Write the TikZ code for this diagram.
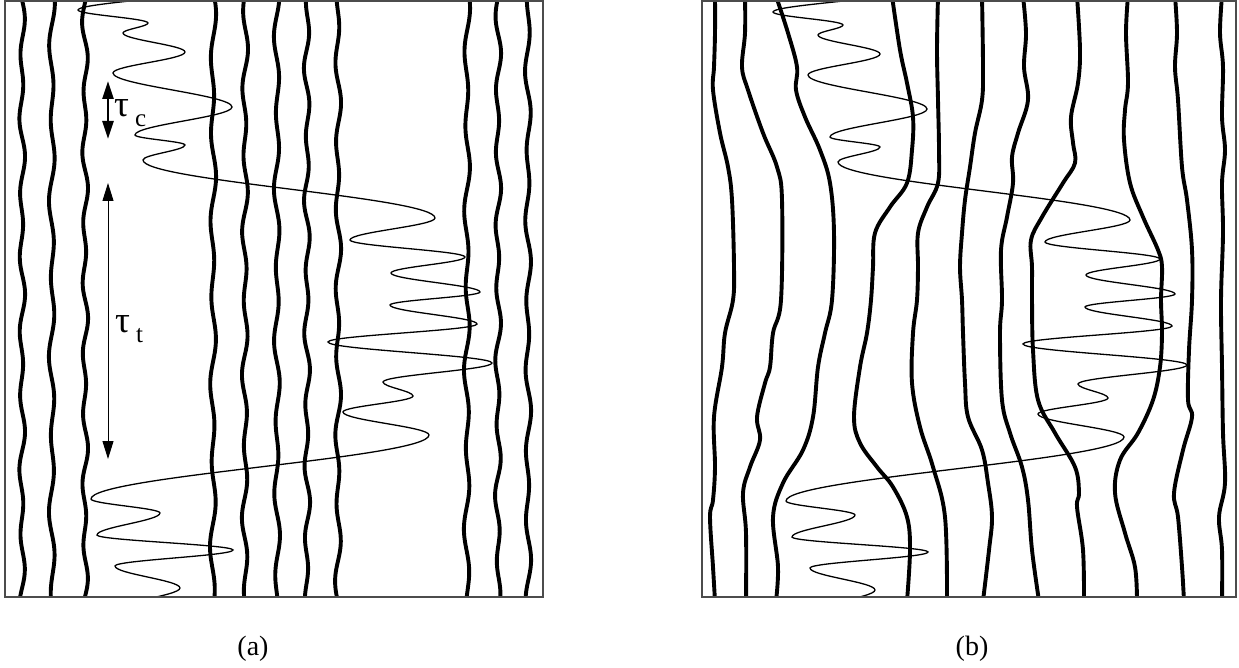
\documentclass[tikz,border=0pt]{standalone}
\usepackage{fontspec}
\setmainfont{Liberation Serif}
\usetikzlibrary{arrows.meta}
\newcommand\wigline[3]{\draw[thickline] plot[smooth, domain=-6:603, samples=120, variable=\t] ({#1+2.1*sin(#2*\t+#3)+1.0*sin(0.53*#2*\t+1.7*#3)}, {\t});}
\newcommand\drawwave[1]{%
\draw[thinwave,#1] (200,-10)
 .. controls +(0,7) and +(0,-7) .. (78,10)
 .. controls +(0,4.7) and +(0,-4.7) .. (148,23)
 .. controls +(0,3.6) and +(0,-3.6) .. (123,33)
 .. controls +(0,6.8) and +(0,-6.8) .. (185,52)
 .. controls +(0,7.6) and +(0,-7.6) .. (113,73)
 .. controls +(0,12.2) and +(0,-12.2) .. (232,107)
 .. controls +(0,10.1) and +(0,-10.1) .. (135,135)
 .. controls +(0,3.6) and +(0,-3.6) .. (185,145)
 .. controls +(0,5.4) and +(0,-5.4) .. (143,160)
 .. controls +(0,20.9) and +(0,-20.9) .. (435,218)
 .. controls +(0,7.9) and +(0,-7.9) .. (350,240)
 .. controls +(0,6.1) and +(0,-6.1) .. (465,257)
 .. controls +(0,5.8) and +(0,-5.8) .. (391,273)
 .. controls +(0,6.8) and +(0,-6.8) .. (480,292)
 .. controls +(0,4.7) and +(0,-4.7) .. (390,305)
 .. controls +(0,6.8) and +(0,-6.8) .. (477,324)
 .. controls +(0,6.5) and +(0,-6.5) .. (328,342)
 .. controls +(0,7.6) and +(0,-7.6) .. (492,363)
 .. controls +(0,6.8) and +(0,-6.8) .. (383,382)
 .. controls +(0,5) and +(0,-5) .. (413,396)
 .. controls +(0,5.8) and +(0,-5.8) .. (343,412)
 .. controls +(0,8.3) and +(0,-8.3) .. (429,435)
 .. controls +(0,23) and +(0,-23) .. (91,499)
 .. controls +(0,5) and +(0,-5) .. (160,513)
 .. controls +(0,7.9) and +(0,-7.9) .. (97,535)
 .. controls +(0,5.4) and +(0,-5.4) .. (233,550)
 .. controls +(0,5.8) and +(0,-5.8) .. (115,566)
 .. controls +(0,7.9) and +(0,-7.9) .. (180,588)
 .. controls +(0,8) and +(0,-8) .. (105,612);}
\tikzset{tipc/.tip={Triangle[length=18pt,width=11pt]}}
\begin{document}
\begin{tikzpicture}[x=1pt,y=-1pt,
  thickline/.style={line width=3.9pt, line cap=round, line join=round},
  thinwave/.style={line width=1.3pt},
  frameline/.style={line width=1.6pt, draw=black!70},
  biglabel/.style={font=\fontsize{28}{32}\selectfont, inner sep=0pt},
  taulabel/.style={font=\fontsize{37}{40}\selectfont, inner sep=0pt, anchor=base west},
  sublabel/.style={font=\fontsize{25}{28}\selectfont, inner sep=0pt, anchor=base west}]
\useasboundingbox (0,0) rectangle (1239,668);
% ---------- panel (a)
\begin{scope}
\clip (5,1) rectangle (543,597);
\wigline{22}{5.2}{0}
\wigline{52}{4.6}{70}
\wigline{85}{5.5}{140}
\wigline{213}{4.4}{30}
\wigline{245}{5.0}{200}
\wigline{277}{4.7}{100}
\wigline{307}{5.4}{260}
\wigline{338}{4.9}{310}
\wigline{467}{4.5}{50}
\wigline{498}{5.3}{170}
\wigline{528}{4.8}{280}
\drawwave{}
\end{scope}
\draw[frameline] (5,1) rectangle (543,597);
\coordinate (tcA) at (108,81);
\coordinate (tcB) at (108,139);
\coordinate (ttA) at (108,183);
\coordinate (ttB) at (108,459);
\draw[tipc-tipc, line width=2.5pt] (tcA) -- (tcB);
\draw[tipc-tipc, line width=1pt] (ttA) -- (ttB);
\node[taulabel] (tauc) at (114,117) {τ};
\node[sublabel] (subc) at (135,127) {c};
\node[taulabel] (taut) at (115,332) {τ};
\node[sublabel] (subt) at (136,342) {t};
\node[biglabel] (laba) at (253,649) {(a)};
% ---------- panel (b)
\begin{scope}
\clip (702,1) rectangle (1236,597);
\draw[thickline] plot[smooth, tension=0.6] coordinates {(715,-4) (715,33) (714,67) (713,90) (720,133) (728,167) (732,200) (734,267) (733,300) (725,333) (722,367) (714,417) (715,467) (713,500) (710,517) (713,567) (715,601)};
\draw[thickline] plot[smooth, tension=0.6] coordinates {(745,-4) (745,33) (742,67) (748,90) (763,133) (777,167) (782,200) (781,300) (773,333) (770,367) (765,383) (757,417) (760,440) (750,467) (743,493) (746,533) (746,601)};
\draw[thickline] plot[smooth, tension=0.6] coordinates {(776,-4) (788,33) (797,67) (796,90) (805,117) (820,150) (830,183) (834,233) (832,300) (825,333) (818,367) (813,417) (803,450) (783,483) (773,517) (778,567) (776,601)};
\draw[thickline] plot[smooth, tension=0.6] coordinates {(892,-4) (900,50) (907,83) (913,117) (912,150) (907,183) (890,207) (875,233) (873,267) (871,300) (867,333) (860,367) (854,417) (860,443) (877,467) (893,487) (907,517) (910,550) (907,601)};
\draw[thickline] plot[smooth, tension=0.6] coordinates {(938,-4) (937,50) (938,100) (939,150) (938,183) (927,207) (918,233) (918,267) (917,300) (913,333) (912,383) (920,427) (933,467) (945,517) (947,601)};
\draw[thickline] plot[smooth, tension=0.6] coordinates {(982,-4) (983,67) (982,100) (975,133) (970,167) (965,200) (962,233) (960,267) (962,300) (963,333) (965,383) (968,417) (982,450) (988,483) (992,517) (989,550) (983,601)};
\draw[thickline] plot[smooth, tension=0.6] coordinates {(1023,-4) (1026,33) (1024,67) (1028,100) (1018,133) (1012,157) (1013,183) (1007,217) (1001,250) (1002,300) (1000,333) (1002,400) (1010,433) (1022,467) (1028,500) (1032,550) (1039,601)};
\draw[thickline] plot[smooth, tension=0.6] coordinates {(1077,-4) (1080,50) (1078,83) (1071,117) (1073,143) (1075,163) (1063,183) (1042,217) (1031,240) (1032,267) (1032,300) (1033,350) (1038,400) (1055,433) (1075,467) (1079,493) (1077,507) (1083,550) (1084,601)};
\draw[thickline] plot[smooth, tension=0.6] coordinates {(1128,-4) (1126,33) (1128,83) (1125,110) (1124,140) (1130,183) (1143,217) (1158,250) (1162,267) (1161,300) (1162,333) (1160,367) (1153,400) (1138,433) (1120,460) (1115,493) (1125,533) (1135,567) (1137,601)};
\draw[thickline] plot[smooth, tension=0.6] coordinates {(1175,-4) (1177,33) (1175,67) (1178,100) (1182,167) (1187,200) (1192,250) (1192,300) (1189,350) (1188,400) (1192,417) (1183,450) (1174,493) (1178,517) (1182,567) (1184,601)};
\draw[thickline] plot[smooth, tension=0.6] coordinates {(1222,-4) (1220,33) (1223,67) (1222,117) (1225,150) (1222,183) (1223,233) (1221,300) (1222,367) (1223,433) (1225,483) (1219,517) (1222,550) (1222,601)};
\drawwave{shift={(695,2)}}
\end{scope}
\draw[frameline] (702,1) rectangle (1236,597);
\node[biglabel] (labb) at (972,649) {(b)};
\end{tikzpicture}
\end{document}
